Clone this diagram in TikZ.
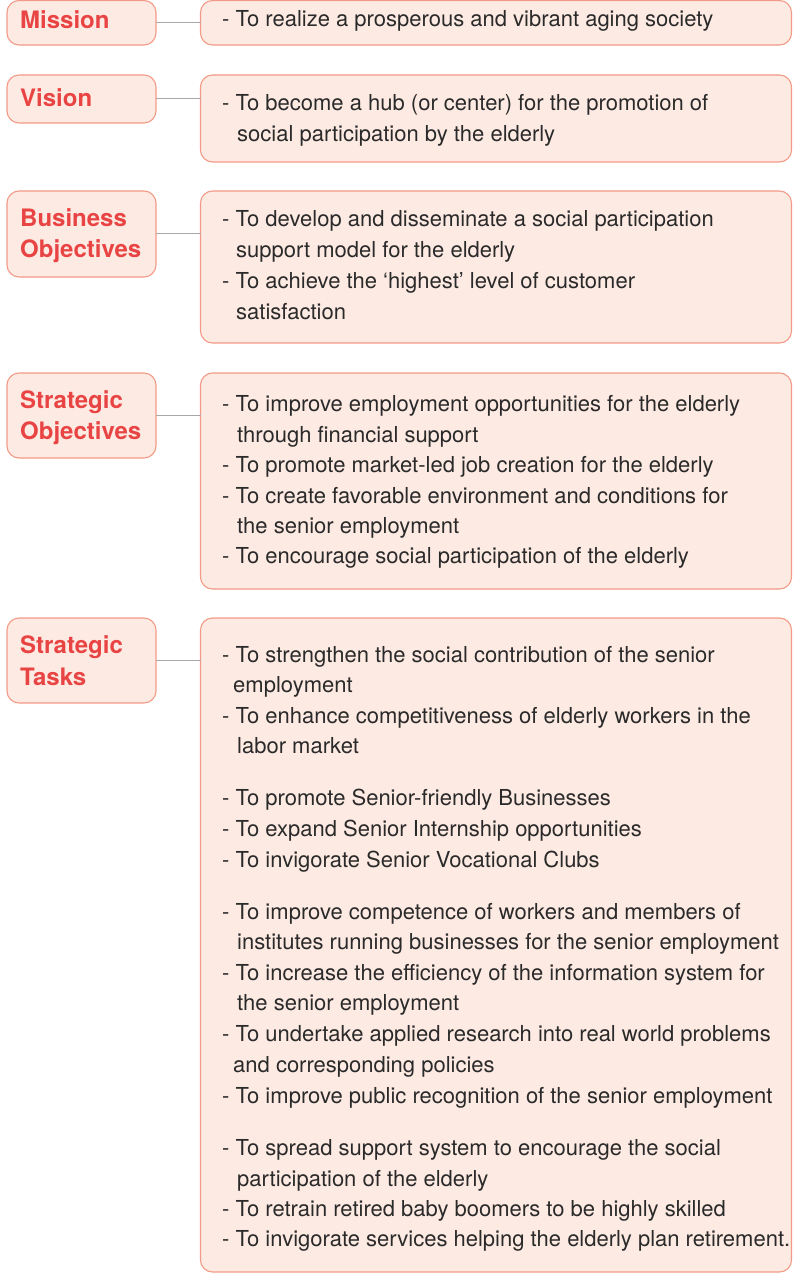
\documentclass[tikz,border=0pt]{standalone}
\usepackage{fontspec}
\setmainfont{TeX Gyre Heros}
\definecolor{boxfill}{HTML}{FDEAE3}
\definecolor{boxline}{HTML}{F39A86}
\definecolor{labred}{HTML}{E94444}
\definecolor{bodytxt}{HTML}{2A2A2A}
\definecolor{conn}{HTML}{A8A8A8}
\begin{document}
\begin{tikzpicture}[x=1pt,y=-1pt,
  pinkbox/.style={draw=boxline,fill=boxfill,line width=1.1pt,rounded corners=12pt,inner sep=0pt,outer sep=0pt},
  lab/.style={anchor=base west,inner sep=0pt,font=\fontsize{24}{28}\selectfont\bfseries,text=labred},
  body/.style={anchor=base west,inner sep=0pt,font=\fontsize{22}{26}\selectfont,text=bodytxt},
  link/.style={draw=conn,line width=1pt}]
\useasboundingbox (0,0) rectangle (792,1273);
% left boxes
\node[pinkbox,minimum width=149pt,minimum height=44.5pt] (lm) at (81.5,22.75) {};
\node[pinkbox,minimum width=149pt,minimum height=48pt] (lv) at (81.5,99) {};
\node[pinkbox,minimum width=149pt,minimum height=86pt] (lb) at (81.5,234) {};
\node[pinkbox,minimum width=149pt,minimum height=85pt] (ls) at (81.5,415.5) {};
\node[pinkbox,minimum width=149pt,minimum height=85pt] (lt) at (81.5,660.5) {};
% right boxes
\node[pinkbox,minimum width=591pt,minimum height=44.5pt] (rm) at (496,22.75) {};
\node[pinkbox,minimum width=591pt,minimum height=87pt] (rv) at (496,118.5) {};
\node[pinkbox,minimum width=591pt,minimum height=152pt] (rb) at (496,267) {};
\node[pinkbox,minimum width=591pt,minimum height=216pt] (rs) at (496,481) {};
\node[pinkbox,minimum width=591pt,minimum height=654pt] (rt) at (496,945) {};
% connectors
\draw[link] (lm.east) -- (lm.east -| rm.west);
\draw[link] (lv.east) -- (lv.east -| rv.west);
\draw[link] (lb.east) -- (lb.east -| rb.west);
\draw[link] (ls.east) -- (ls.east -| rs.west);
\draw[link] (lt.east) -- (lt.east -| rt.west);
% labels
\node[lab] (lm1) at (20,29) {Mission};
\node[lab] (lv1) at (20,107) {Vision};
\node[lab] (lb1) at (20,227) {Business};
\node[lab] (lb2) at (20,258) {Objectives};
\node[lab] (ls1) at (20,408) {Strategic};
\node[lab] (ls2) at (20,439) {Objectives};
\node[lab] (lt1) at (20,653) {Strategic};
\node[lab] (lt2) at (20,685) {Tasks};
% body text
\node[body] (m1) at (222,27) {- To realize a prosperous and vibrant aging society};
\node[body] (v1) at (222,111) {- To become a hub (or center) for the promotion of};
\node[body] (v2) at (237,142) {social participation by the elderly};
\node[body] (b1) at (222,227) {- To develop and disseminate a social participation};
\node[body] (b2) at (236,258) {support model for the elderly};
\node[body] (b3) at (222,288) {- To achieve the ‘highest’ level of customer};
\node[body] (b4) at (236,319) {satisfaction};
\node[body] (s1) at (222,411) {- To improve employment opportunities for the elderly};
\node[body] (s2) at (237,442) {through financial support};
\node[body] (s3) at (222,472) {- To promote market-led job creation for the elderly};
\node[body] (s4) at (222,503) {- To create favorable environment and conditions for};
\node[body] (s5) at (237,533) {the senior employment};
\node[body] (s6) at (222,563) {- To encourage social participation of the elderly};
\node[body] (t1) at (222,662) {- To strengthen the social contribution of the senior};
\node[body] (t2) at (233,692) {employment};
\node[body] (t3) at (222,723) {- To enhance competitiveness of elderly workers in the};
\node[body] (t4) at (237,753) {labor market};
\node[body] (t5) at (222,805) {- To promote Senior-friendly Businesses};
\node[body] (t6) at (222,836) {- To expand Senior Internship opportunities};
\node[body] (t7) at (222,867) {- To invigorate Senior Vocational Clubs};
\node[body] (t8) at (222,919) {- To improve competence of workers and members of};
\node[body] (t9) at (237,949) {institutes running businesses for the senior employment};
\node[body] (t10) at (222,980) {- To increase the efficiency of the information system for};
\node[body] (t11) at (237,1010) {the senior employment};
\node[body] (t12) at (222,1041) {- To undertake applied research into real world problems};
\node[body] (t13) at (233,1072) {and corresponding policies};
\node[body] (t14) at (222,1103) {- To improve public recognition of the senior employment};
\node[body] (t15) at (222,1155) {- To spread support system to encourage the social};
\node[body] (t16) at (237,1186) {participation of the elderly};
\node[body] (t17) at (222,1216) {- To retrain retired baby boomers to be highly skilled};
\node[body] (t18) at (222,1246) {- To invigorate services helping the elderly plan retirement.};
\end{tikzpicture}
\end{document}
